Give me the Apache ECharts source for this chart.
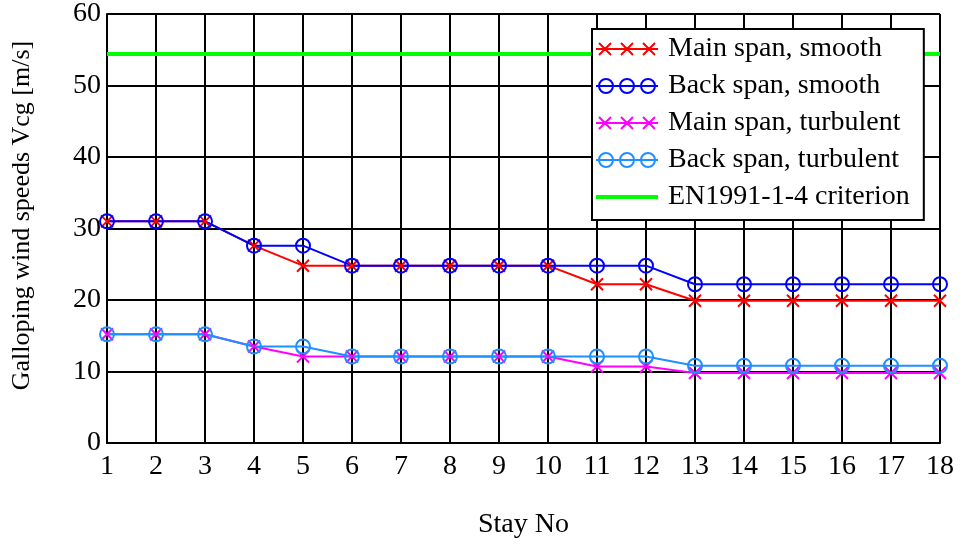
<!DOCTYPE html>
<html>
<head>
<meta charset="utf-8">
<script src="https://cdn.jsdelivr.net/npm/echarts@6/dist/echarts.min.js"></script>
<style>
  html, body { margin: 0; padding: 0; background: #fff; }
  #chart { width: 962px; height: 544px; }
</style>
</head>
<body>
<div id="chart"></div>
<script>
// stay numbers along the x axis
const stays = [1, 2, 3, 4, 5, 6, 7, 8, 9, 10, 11, 12, 13, 14, 15, 16, 17, 18]

// galloping wind speeds [m/s]
const mainSmooth = [31.0, 31.0, 31.0, 27.6, 24.8, 24.8, 24.8, 24.8, 24.8, 24.8, 22.2, 22.2, 19.9, 19.9, 19.9, 19.9, 19.9, 19.9]
const backSmooth = [31.0, 31.0, 31.0, 27.6, 27.6, 24.8, 24.8, 24.8, 24.8, 24.8, 24.8, 24.8, 22.2, 22.2, 22.2, 22.2, 22.2, 22.2]
const mainTurbulent = [15.2, 15.2, 15.2, 13.5, 12.1, 12.1, 12.1, 12.1, 12.1, 12.1, 10.7, 10.7, 9.8, 9.8, 9.8, 9.8, 9.8, 9.8]
const backTurbulent = [15.2, 15.2, 15.2, 13.5, 13.5, 12.1, 12.1, 12.1, 12.1, 12.1, 12.1, 12.1, 10.8, 10.8, 10.8, 10.8, 10.8, 10.8]
const criterion = [54.4, 54.4, 54.4, 54.4, 54.4, 54.4, 54.4, 54.4, 54.4, 54.4, 54.4, 54.4, 54.4, 54.4, 54.4, 54.4, 54.4, 54.4]

const seriesNames = ['Main span, smooth', 'Back span, smooth', 'Main span, turbulent', 'Back span, turbulent', 'EN1991-1-4 criterion']

const font = 'Liberation Serif'
const crossSymbol = 'path://M0,0L10,10M0,10L10,0'
const crossIcon = 'path://M0,8L62,8M3,2L15,14M3,14L15,2M25,2L37,14M25,14L37,2M47,2L59,14M47,14L59,2'
const circleIcon = 'path://M0,8L62,8M17,8A7,7,0,1,1,3,8A7,7,0,1,1,17,8M38,8A7,7,0,1,1,24,8A7,7,0,1,1,38,8M59,8A7,7,0,1,1,45,8A7,7,0,1,1,59,8'
const barIcon = 'path://M0,6L62,6L62,10L0,10Z'

function pairs(values) {
  return stays.map((s, i) => [s, values[i]])
}

function markedLine(name, values, color, kind) {
  const isCross = kind === 'cross'
  return {
    name: name,
    type: 'line',
    data: pairs(values),
    symbol: isCross ? crossSymbol : 'circle',
    symbolSize: isCross ? 12 : 14,
    showAllSymbol: true,
    lineStyle: { color: color, width: 2 },
    itemStyle: { color: 'transparent', borderColor: color, borderWidth: 2 },
    emphasis: { disabled: true }
  }
}

function legendItem(name, icon, color) {
  return {
    name: name,
    icon: icon,
    itemStyle: { color: 'transparent', borderColor: color, borderWidth: 2 }
  }
}

const chart = echarts.init(document.getElementById('chart'))

chart.setOption({
  animation: false,
  textStyle: { fontFamily: font, color: '#000' },
  grid: { left: 107, right: 22, top: 13, bottom: 101 },
  legend: {
    orient: 'vertical',
    left: 592,
    top: 29,
    padding: [6, 14, 9, 3],
    itemWidth: 62,
    itemHeight: 16,
    itemGap: 9,
    symbolKeepAspect: true,
    backgroundColor: '#fff',
    borderColor: '#000',
    borderWidth: 2,
    borderRadius: 0,
    textStyle: { fontFamily: font, fontSize: 28, color: '#000', padding: [0, 0, 0, 5] },
    data: [
      legendItem(seriesNames[0], crossIcon, '#ff0000'),
      legendItem(seriesNames[1], circleIcon, '#0000ff'),
      legendItem(seriesNames[2], crossIcon, '#ff00ff'),
      legendItem(seriesNames[3], circleIcon, '#1e90ff'),
      { name: seriesNames[4], icon: barIcon, itemStyle: { color: '#00ff00', borderWidth: 0 } }
    ]
  },
  xAxis: {
    type: 'value',
    min: 1,
    max: 18,
    interval: 1,
    name: 'Stay No',
    nameLocation: 'middle',
    nameGap: 68,
    nameTextStyle: { fontFamily: font, fontSize: 28, color: '#000' },
    axisLine: { lineStyle: { color: '#000', width: 2 } },
    axisTick: { show: false },
    axisLabel: { fontFamily: font, fontSize: 28, color: '#000', margin: 10 },
    splitLine: { show: true, lineStyle: { color: '#000', width: 2 } }
  },
  yAxis: {
    type: 'value',
    min: 0,
    max: 60,
    interval: 10,
    name: 'Galloping wind speeds Vcg [m/s]',
    nameLocation: 'middle',
    nameGap: 72,
    nameTextStyle: { fontFamily: font, fontSize: 26, color: '#000', padding: [0, 0, 0, 26] },
    axisLine: { show: true, lineStyle: { color: '#000', width: 2 } },
    axisTick: { show: false },
    axisLabel: { fontFamily: font, fontSize: 28, color: '#000', margin: 6, padding: [6, 0, 0, 0] },
    splitLine: { show: true, lineStyle: { color: '#000', width: 2 } }
  },
  series: [
    markedLine(seriesNames[0], mainSmooth, '#ff0000', 'cross'),
    markedLine(seriesNames[1], backSmooth, '#0000ff', 'circle'),
    markedLine(seriesNames[2], mainTurbulent, '#ff00ff', 'cross'),
    markedLine(seriesNames[3], backTurbulent, '#1e90ff', 'circle'),
    {
      name: seriesNames[4],
      type: 'line',
      data: pairs(criterion),
      showSymbol: false,
      symbol: 'none',
      lineStyle: { color: '#00ff00', width: 4 },
      itemStyle: { color: '#00ff00' },
      emphasis: { disabled: true }
    }
  ]
})
</script>
</body>
</html>
